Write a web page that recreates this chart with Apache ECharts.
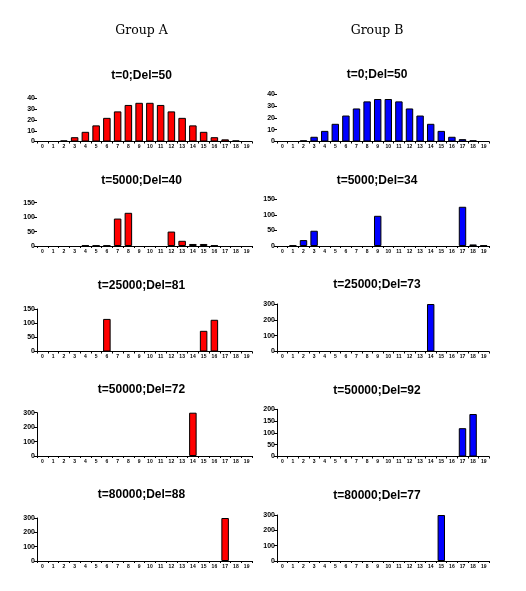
<!DOCTYPE html>
<html>
<head>
<meta charset="utf-8">
<script src="https://cdn.jsdelivr.net/npm/echarts@6/dist/echarts.min.js"></script>
<style>
html,body{margin:0;padding:0;background:#fff;}
#chart{width:526px;height:591px;}
</style>
</head>
<body>
<div id="chart"></div>
<script>
// ---- data ----
const categories = ['0','1','2','3','4','5','6','7','8','9','10','11','12','13','14','15','16','17','18','19'];
const groupNames = ['Group A', 'Group B'];

const titlesA = ['t=0;Del=50', 't=5000;Del=40', 't=25000;Del=81', 't=50000;Del=72', 't=80000;Del=88'];
const titlesB = ['t=0;Del=50', 't=5000;Del=34', 't=25000;Del=73', 't=50000;Del=92', 't=80000;Del=77'];

const a_t0     = [0,0,1,4,9,15,22,28,34,36,36,34,28,22,15,9,4,2,1,0];
const a_t5000  = [0,0,0,0,2,2,2,95,115,0,0,0,50,18,7,7,2,0,0,0];
const a_t25000 = [0,0,0,0,0,0,115,0,0,0,0,0,0,0,0,73,112,0,0,0];
const a_t50000 = [0,0,0,0,0,0,0,0,0,0,0,0,0,0,300,0,0,0,0,0];
const a_t80000 = [0,0,0,0,0,0,0,0,0,0,0,0,0,0,0,0,0,300,0,0];

const b_t0     = [0,0,1,4,9,15,22,28,34,36,36,34,28,22,15,9,4,2,1,0];
const b_t5000  = [0,2,19,49,0,0,0,0,0,97,0,0,0,0,0,0,0,126,5,2];
const b_t25000 = [0,0,0,0,0,0,0,0,0,0,0,0,0,0,300,0,0,0,0,0];
const b_t50000 = [0,0,0,0,0,0,0,0,0,0,0,0,0,0,0,0,0,120,180,0];
const b_t80000 = [0,0,0,0,0,0,0,0,0,0,0,0,0,0,0,300,0,0,0,0];

const yMaxA  = [40, 150, 150, 300, 300];
const yStepA = [10, 50, 50, 100, 100];
const yMaxB  = [40, 150, 300, 200, 300];
const yStepB = [10, 50, 100, 50, 100];

const seriesA = [a_t0, a_t5000, a_t25000, a_t50000, a_t80000];
const seriesB = [b_t0, b_t5000, b_t25000, b_t50000, b_t80000];

// ---- layout (pixels) ----
const colLeft   = [37, 277];
const colWidth  = [215, 212];
const colCenter = [141.5, 377];
const colColor  = ['#ff0000', '#0000ff'];
const zeroY = [[141.5, 246, 351.5, 456, 561], [141.5, 246, 351.5, 456.5, 561]];
const topY  = [[98.5, 202.7, 309, 412.7, 518], [94.3, 199.3, 304, 409.3, 515]];
const titleY = [[76, 181, 286, 389.5, 495], [75, 181, 284.5, 391, 496]];

const grids = [], xAxes = [], yAxes = [], series = [], graphics = [];
let idx = 0;
for (let c = 0; c < 2; c++) {
  const titles = c === 0 ? titlesA : titlesB;
  const data = c === 0 ? seriesA : seriesB;
  const ymax = c === 0 ? yMaxA : yMaxB;
  const ystep = c === 0 ? yStepA : yStepB;
  graphics.push({
    type: 'text',
    x: colCenter[c], y: 30.5,
    style: {
      text: groupNames[c], fill: '#000',
      font: '12.5px "DejaVu Serif", serif',
      textAlign: 'center', textVerticalAlign: 'middle'
    }
  });
  for (let r = 0; r < 5; r++) {
    grids.push({
      left: colLeft[c], width: colWidth[c],
      top: topY[c][r], height: zeroY[c][r] - topY[c][r]
    });
    graphics.push({
      type: 'text',
      x: colCenter[c], y: titleY[c][r],
      style: {
        text: titles[r], fill: '#000',
        font: 'bold 12px "Liberation Sans", Arial, sans-serif',
        textAlign: 'center', textVerticalAlign: 'middle'
      }
    });
    xAxes.push({
      type: 'category', gridIndex: idx, data: categories,
      boundaryGap: true,
      axisLine: { show: true, lineStyle: { color: '#000', width: 1 } },
      axisTick: { show: true, length: 2, interval: 0, lineStyle: { color: '#000' } },
      axisLabel: {
        interval: 0, fontSize: 5, color: '#000', margin: 3,
        fontFamily: '"Liberation Sans Narrow", "Liberation Sans", sans-serif', fontWeight: 'bold'
      },
      splitLine: { show: false }
    });
    yAxes.push({
      type: 'value', gridIndex: idx, min: 0, max: ymax[r], interval: ystep[r],
      axisLine: { show: r >= 2, lineStyle: { color: '#000', width: 1 } },
      axisTick: { show: true, length: 3, lineStyle: { color: '#000' } },
      axisLabel: {
        fontSize: 7, color: '#000', margin: 2,
        fontFamily: '"Liberation Sans Narrow", "Liberation Sans", sans-serif', fontWeight: 'bold'
      },
      splitLine: { show: false }
    });
    series.push({
      type: 'bar', xAxisIndex: idx, yAxisIndex: idx,
      // empty classes are not drawn (no outline for zero-height bars)
      data: data[r].map(v => (v === 0 ? null : v)),
      barWidth: '70%',
      itemStyle: { color: colColor[c], borderColor: '#000', borderWidth: 1 },
      silent: true
    });
    idx++;
  }
}

const chart = echarts.init(document.getElementById('chart'), null, { renderer: 'canvas' });
chart.setOption({
  animation: false,
  backgroundColor: '#fff',
  grid: grids,
  xAxis: xAxes,
  yAxis: yAxes,
  series: series,
  graphic: graphics
});
</script>
</body>
</html>
